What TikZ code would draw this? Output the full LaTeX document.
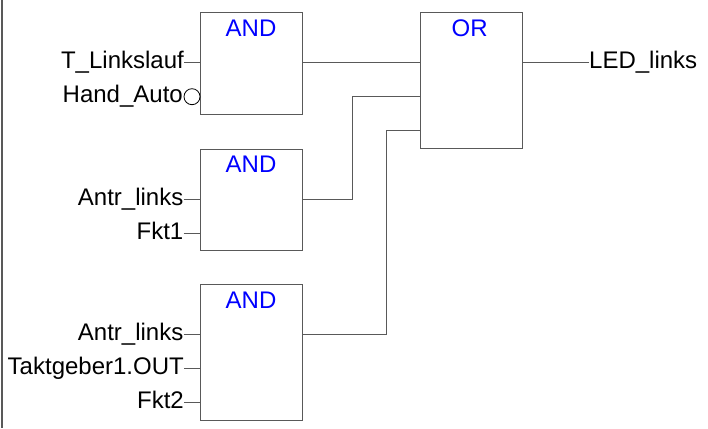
\documentclass[tikz,border=0pt]{standalone}
\usepackage{fontspec}
\setmainfont{Liberation Sans}
\definecolor{wiregray}{gray}{0.35}
\tikzset{
	block/.style = {draw = wiregray, line width = 1pt, fill = white, minimum width = 102pt, inner sep = 0pt},
	blockname/.style = {text = blue, anchor = base, inner sep = 0pt, font = \fontsize{24}{28}\selectfont},
	pinlabel/.style = {inner sep = 0pt, text height = 17pt, text depth = 5pt, font = \fontsize{24}{28}\selectfont},
	wire/.style = {draw = wiregray, line width = 1pt},
	negpin/.style = {draw = black, circle, fill = white, line width = 0.8pt, minimum size = 16pt, inner sep = 0pt}
}
\begin{document}
\begin{tikzpicture}[x = 1pt, y = -1pt]
	\useasboundingbox (0, 0) rectangle (708, 428);
	\draw[wire, line width = 1.5pt] (2, 0) -- (2, 428);
	\node[block, minimum height = 101pt] (and1) at (251, 63.5) {};
	\node[block, minimum height = 101pt] (and2) at (251, 199.5) {};
	\node[block, minimum height = 136pt] (and3) at (251, 352.7) {};
	\node[block, minimum height = 135.5pt] (or1) at (471, 80.7) {};
	\node[blockname] (and1name) at (251, 36.3) {AND};
	\node[blockname] (and2name) at (251, 172.8) {AND};
	\node[blockname] (and3name) at (251, 308.8) {AND};
	\node[blockname] (or1name) at (469.7, 36.3) {OR};
	\node[pinlabel, anchor = east] (tlinks) at (184, 62) {T\_Linkslauf};
	\node[pinlabel, anchor = east] (hand) at (183, 96.5) {Hand\_Auto};
	\node[pinlabel, anchor = east] (antr1) at (183.5, 199) {Antr\_links};
	\node[pinlabel, anchor = east] (fkt1) at (183.5, 233) {Fkt1};
	\node[pinlabel, anchor = east] (antr2) at (183.5, 334.7) {Antr\_links};
	\node[pinlabel, anchor = east] (takt) at (184, 368.7) {Taktgeber1.OUT};
	\node[pinlabel, anchor = east] (fkt2) at (184, 402.7) {Fkt2};
	\node[pinlabel, anchor = west] (led) at (589, 62) {LED\_links};
	\node[negpin] (handneg) at (192, 96.7) {};
	\coordinate (out1) at (302, 62);
	\coordinate (out2) at (302, 199);
	\coordinate (out3) at (302, 334.7);
	\coordinate (in2) at (420, 96.5);
	\coordinate (in3) at (420, 130.5);
	\coordinate (knee2) at (352, 96.5);
	\coordinate (knee3) at (386, 130.5);
	\draw[wire] (tlinks.east) -- (tlinks.east -| and1.west);
	\draw[wire] (antr1.east) -- (antr1.east -| and2.west);
	\draw[wire] (fkt1.east) -- (fkt1.east -| and2.west);
	\draw[wire] (antr2.east) -- (antr2.east -| and3.west);
	\draw[wire] (takt.east) -- (takt.east -| and3.west);
	\draw[wire] (fkt2.east) -- (fkt2.east -| and3.west);
	\draw[wire] (out1) -- (out1 -| or1.west);
	\draw[wire] (out2) -| (knee2) -- (in2);
	\draw[wire] (out3) -| (knee3) -- (in3);
	\draw[wire] (led.west |- out1) -- (out1 -| or1.east);
\end{tikzpicture}
\end{document}
